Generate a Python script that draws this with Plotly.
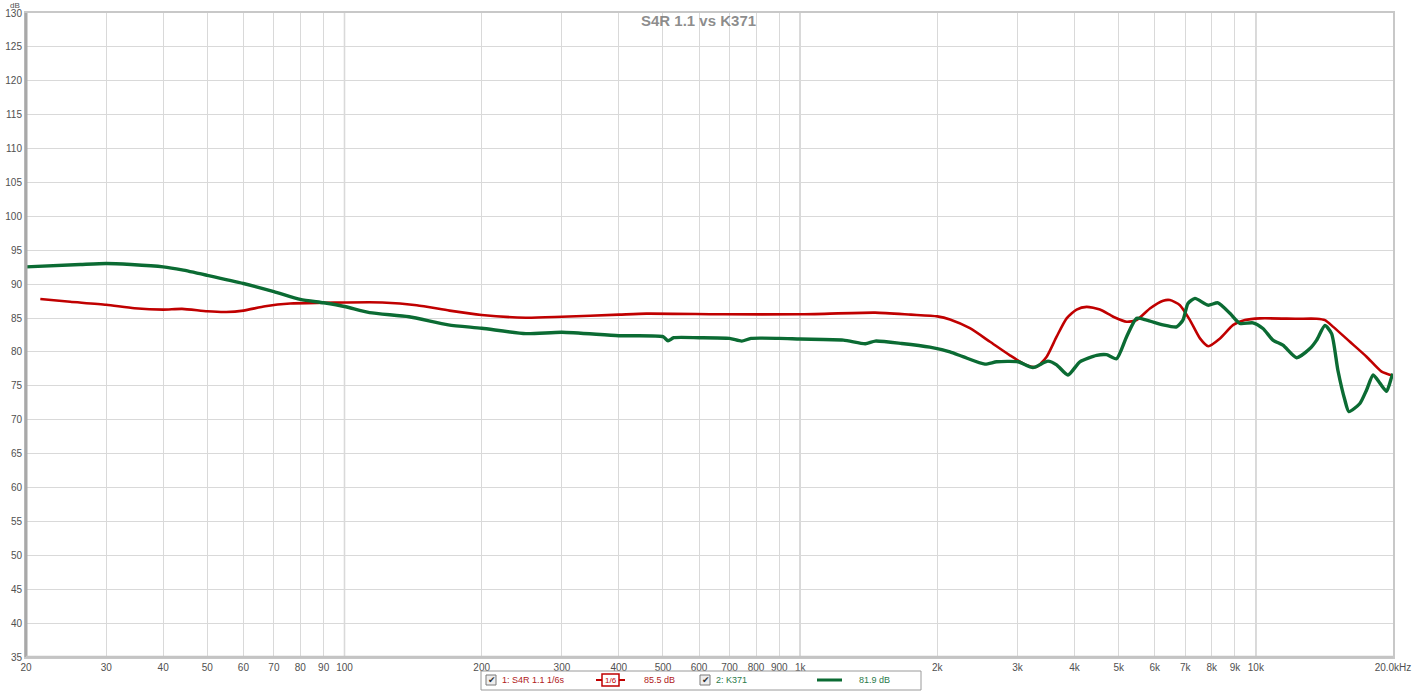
import plotly.graph_objects as go
import math

# ---------------- data ----------------
red_freq = [21.5, 25, 30, 34.6, 40, 44, 50, 55, 60, 67, 76, 90, 100, 121, 144, 170, 200, 250, 300, 400,
            460, 680, 1000, 1460, 1750, 2000, 2132, 2358, 2610, 2886, 3140, 3304, 3475, 3654, 3844, 4043,
            4252, 4547, 4864, 5205, 5474, 5855, 6262, 6478, 6814, 7168, 7541, 7864, 8344, 8922, 9464,
            10210, 12288, 13598, 14178, 14786, 16086, 17500, 18880, 20000]
red_db = [87.8, 87.4, 86.95, 86.45, 86.25, 86.35, 86.0, 85.9, 86.1, 86.75, 87.15, 87.25, 87.3, 87.3, 86.9,
          86.1, 85.45, 85.05, 85.2, 85.5, 85.65, 85.55, 85.55, 85.8, 85.5, 85.25, 84.8, 83.5, 81.5, 79.5,
          78.05, 77.8, 79.3, 82.25, 84.95, 86.25, 86.65, 86.25, 85.2, 84.45, 84.7, 86.4, 87.55, 87.65, 86.9,
          84.7, 82.0, 80.85, 82.0, 84.0, 84.7, 84.95, 84.9, 84.9, 84.7, 83.7, 81.5, 79.3, 77.1, 76.5]

green_freq = [20, 26.3, 30, 34, 40, 44, 50, 60, 70, 80, 90, 100, 113.5, 138.5, 169, 200, 250, 300, 400, 500,
              513, 528, 600, 700, 744, 780, 900, 1000, 1244, 1390, 1461, 1670, 1926, 2132, 2276, 2544, 2700,
              3006, 3242, 3498, 3654, 3870, 4111, 4474, 4704, 4948, 5205, 5474, 5758, 6252, 6700, 6918,
              7096, 7352, 7852, 8258, 8772, 9228, 9852, 10366, 10904, 11470, 12288, 13146, 13598, 14178,
              14664, 15138, 15682, 16002, 16918, 17500, 18092, 18714, 19364, 19860, 20000]
green_db = [92.55, 92.9, 93.05, 92.9, 92.55, 92.1, 91.3, 90.1, 88.9, 87.75, 87.25, 86.7, 85.8, 85.2, 84.0,
            83.5, 82.7, 82.9, 82.4, 82.25, 81.65, 82.1, 82.1, 82.0, 81.6, 82.0, 82.0, 81.9, 81.75, 81.2,
            81.6, 81.25, 80.7, 80.0, 79.3, 78.2, 78.55, 78.55, 77.7, 78.65, 78.1, 76.6, 78.55, 79.5, 79.6,
            79.0, 82.25, 84.95, 84.7, 84.0, 83.7, 84.7, 87.15, 87.9, 86.9, 87.25, 85.7, 84.2, 84.3, 83.45,
            81.75, 81.0, 79.15, 80.5, 81.75, 83.9, 82.7, 77.3, 72.9, 71.2, 72.4, 74.4, 76.6, 75.4, 74.2,
            76.3, 76.8]

x_tickvals = [20, 30, 40, 50, 60, 70, 80, 90, 100, 200, 300, 400, 500, 600, 700, 800, 900, 1000,
              2000, 3000, 4000, 5000, 6000, 7000, 8000, 9000, 10000, 20000]
x_ticktext = ["20", "30", "40", "50", "60", "70", "80", "90", "100", "200", "300", "400", "500", "600",
              "700", "800", "900", "1k", "2k", "3k", "4k", "5k", "6k", "7k", "8k", "9k", "10k", "20.0kHz"]
major_freqs = [100, 1000, 10000]

title_text = "S4R 1.1 vs K371"
legend_items = ["1: S4R 1.1 1/6s", "1/6", "85.5 dB", "2: K371", "81.9 dB"]

# ---------------- figure ----------------
W, H = 1420, 692
L, R, T, B = 26, 27, 13, 35
PW, PH = W - L - R, H - T - B

def px(x):
    return (x - L) / PW

def py(y):
    return (H - B - y) / PH

RED = "#c00000"
GREEN = "#0b6b33"
TXT = "#505050"

fig = go.Figure()
fig.add_trace(go.Scatter(x=red_freq, y=red_db, mode="lines",
                         line=dict(color=RED, width=2.6, shape="spline", smoothing=0.6),
                         showlegend=False, hoverinfo="skip"))
fig.add_trace(go.Scatter(x=green_freq, y=green_db, mode="lines",
                         line=dict(color=GREEN, width=3.4, shape="spline", smoothing=0.6),
                         showlegend=False, hoverinfo="skip"))

shapes = []
for f in major_freqs:
    shapes.append(dict(type="line", xref="x", yref="paper", x0=f, x1=f, y0=0, y1=1,
                       line=dict(color="#b4b4b4", width=1.3), layer="below"))
shapes.append(dict(type="line", xref="paper", yref="paper", x0=0, x1=0, y0=0, y1=1,
                   line=dict(color="#a8a8a8", width=3)))
shapes.append(dict(type="line", xref="paper", yref="paper", x0=0, x1=1, y0=0, y1=0,
                   line=dict(color="#c4c4c4", width=2.5)))

shapes.append(dict(type="rect", xref="paper", yref="paper", x0=px(481), x1=px(921), y0=py(690), y1=py(671),
                   line=dict(color="#9a9a9a", width=1), fillcolor="white"))
for cx in [491, 705]:
    shapes.append(dict(type="rect", xref="paper", yref="paper", x0=px(cx - 5), x1=px(cx + 5),
                       y0=py(685), y1=py(675), line=dict(color="#7a7a7a", width=1), fillcolor="#eeeeee"))
shapes.append(dict(type="line", xref="paper", yref="paper", x0=px(596), x1=px(625), y0=py(680), y1=py(680),
                   line=dict(color=RED, width=2)))
shapes.append(dict(type="rect", xref="paper", yref="paper", x0=px(602), x1=px(619), y0=py(686), y1=py(674),
                   line=dict(color=RED, width=1.5), fillcolor="white"))
shapes.append(dict(type="line", xref="paper", yref="paper", x0=px(817), x1=px(842), y0=py(680), y1=py(680),
                   line=dict(color=GREEN, width=3)))

annotations = []
annotations.append(dict(text="<b>" + title_text + "</b>", xref="paper", yref="paper", x=px(698), y=py(20),
                        showarrow=False, font=dict(family="Liberation Sans, Arial", size=15,
                                                   color="rgba(120,120,120,0.85)"),
                        xanchor="center", yanchor="middle"))
annotations.append(dict(text="dB", xref="paper", yref="paper", x=px(15), y=py(-1), showarrow=False,
                        font=dict(family="Liberation Sans, Arial", size=8, color=TXT),
                        xanchor="center", yanchor="top"))
for cx in [491, 705]:
    annotations.append(dict(text="✔", xref="paper", yref="paper", x=px(cx + 0.5), y=py(680), showarrow=False,
                            font=dict(family="DejaVu Sans", size=9, color="#303030"),
                            xanchor="center", yanchor="middle"))
leg_font = dict(family="Liberation Sans, Arial", size=9)
annotations.append(dict(text=legend_items[0], xref="paper", yref="paper", x=px(500), y=py(680), showarrow=False,
                        font=dict(color="#b02020", **leg_font), xanchor="left", yanchor="middle"))
annotations.append(dict(text=legend_items[1], xref="paper", yref="paper", x=px(610.5), y=py(680), showarrow=False,
                        font=dict(family="Liberation Sans, Arial", size=8, color=RED),
                        xanchor="center", yanchor="middle"))
annotations.append(dict(text=legend_items[2], xref="paper", yref="paper", x=px(659), y=py(680), showarrow=False,
                        font=dict(color="#b02020", **leg_font), xanchor="center", yanchor="middle"))
annotations.append(dict(text=legend_items[3], xref="paper", yref="paper", x=px(714), y=py(680), showarrow=False,
                        font=dict(color="#2a7a4a", **leg_font), xanchor="left", yanchor="middle"))
annotations.append(dict(text=legend_items[4], xref="paper", yref="paper", x=px(874), y=py(680), showarrow=False,
                        font=dict(color="#2a7a4a", **leg_font), xanchor="center", yanchor="middle"))

fig.update_layout(
    width=W, height=H, autosize=False,
    margin=dict(l=L, r=R, t=T, b=B, pad=0),
    paper_bgcolor="white", plot_bgcolor="white",
    font=dict(family="Liberation Sans, Arial", size=10, color=TXT),
    showlegend=False,
    shapes=shapes, annotations=annotations,
    xaxis=dict(type="log", range=[math.log10(20), math.log10(20000)], automargin=False,
               tickvals=x_tickvals, ticktext=x_ticktext, tickangle=0,
               showgrid=True, gridcolor="#d9d9d9", gridwidth=1,
               showline=True, mirror=True, linecolor="#c8c8c8", linewidth=2,
               ticks="", zeroline=False, tickfont=dict(size=10, color=TXT)),
    yaxis=dict(range=[35, 130], dtick=5, tick0=35, automargin=False,
               showgrid=True, gridcolor="#d9d9d9", gridwidth=1,
               showline=True, mirror=True, linecolor="#c8c8c8", linewidth=2,
               ticks="", zeroline=False, tickfont=dict(size=10, color=TXT)),
)

fig.write_html("out.html", config={"displayModeBar": False},
               post_script="document.body.style.margin='0';")
